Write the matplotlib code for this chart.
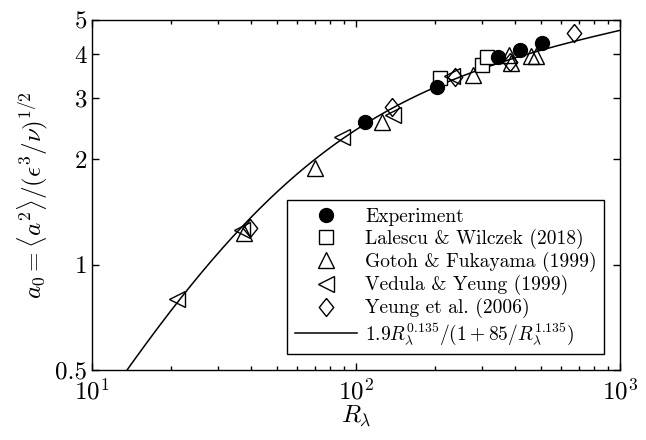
"""a0 vs R_lambda: experiment and DNS data with the empirical fit."""

import matplotlib
matplotlib.use("Agg")
import matplotlib.pyplot as plt
import numpy as np
from matplotlib.ticker import FixedLocator, FixedFormatter, LogLocator, NullFormatter

plt.rcParams["font.family"] = "serif"
plt.rcParams["font.serif"] = ["cmr10", "DejaVu Serif"]
plt.rcParams["mathtext.fontset"] = "cm"
plt.rcParams["axes.formatter.use_mathtext"] = True

# data
exp_R = [108, 203, 345, 418, 506]
exp_a0 = [2.56, 3.22, 3.93, 4.10, 4.31]

lw_R = [208, 300, 313]
lw_a0 = [3.41, 3.72, 3.93]

gf_R = [37.6, 70, 125, 278, 380, 386, 460, 480]
gf_a0 = [1.23, 1.89, 2.56, 3.48, 3.97, 3.76, 3.94, 3.94]

vy_R = [21, 37, 88.5, 138, 231]
vy_a0 = [0.80, 1.26, 2.32, 2.68, 3.45]

yeung_R = [39.5, 137, 237, 382, 670]
yeung_a0 = [1.27, 2.82, 3.44, 3.79, 4.59]

# fit a0 = C R^p / (1 + K / R^(1+p))
fit_C, fit_p, fit_K = 1.9, 0.135, 85.0

fig = plt.figure(figsize=(6.46, 4.40), dpi=100)
ax = fig.add_axes([0.1424, 0.159, 0.8174, 0.7955])

R = np.logspace(1, 3, 400)
fit = fit_C * R**fit_p / (1 + fit_K / R**(1 + fit_p))

diamond = [(0, 1), (0.8, 0), (0, -1), (-0.8, 0), (0, 1)]
ms = 12
ax.plot(exp_R, exp_a0, "o", ms=10, color="black", ls="none", label="Experiment", zorder=3)
ax.plot(lw_R, lw_a0, "s", ms=10, mfc="white", mec="black", mew=1.0, ls="none",
        label="Lalescu & Wilczek (2018)", zorder=2)
ax.plot(gf_R, gf_a0, "^", ms=ms, mfc="none", mec="black", mew=1.0, ls="none",
        label="Gotoh & Fukayama (1999)", zorder=2)
ax.plot(vy_R, vy_a0, "<", ms=ms, mfc="none", mec="black", mew=1.0, ls="none",
        label="Vedula & Yeung (1999)", zorder=2)
ax.plot(yeung_R, yeung_a0, marker=diamond, ms=13, mfc="none", mec="black", mew=1.0, ls="none",
        label="Yeung et al. (2006)", zorder=2)
ax.plot(R, fit, "-", color="black", lw=1.1,
        label=r"$1.9R_\lambda^{0.135}/(1+85/R_\lambda^{1.135})$", zorder=1)

ax.set_xscale("log")
ax.set_yscale("log")
ax.set_xlim(10, 1000)
ax.set_ylim(0.5, 5)

yt = [0.5, 1, 2, 3, 4, 5]
ax.yaxis.set_major_locator(FixedLocator(yt))
ax.yaxis.set_major_formatter(FixedFormatter(["0.5", "1", "2", "3", "4", "5"]))
ax.yaxis.set_minor_locator(FixedLocator([]))
ax.yaxis.set_minor_formatter(NullFormatter())
ax.xaxis.set_minor_locator(LogLocator(base=10, subs=np.arange(2, 10)))
ax.xaxis.set_minor_formatter(NullFormatter())

ax.tick_params(which="both", direction="in", top=True, right=True, labelsize=18, width=1.0)
ax.tick_params(which="major", length=5)
ax.tick_params(which="minor", length=3)
ax.tick_params(axis="x", which="major", pad=6)
for s in ax.spines.values():
    s.set_linewidth(1.0)

ax.set_xlabel(r"$R_\lambda$", fontsize=18, labelpad=0)
ax.set_ylabel(r"$a_0 = \langle a^2\rangle/(\epsilon^3/\nu)^{1/2}$", fontsize=18, labelpad=4)

leg = ax.legend(loc="lower right", fontsize=14, frameon=True, fancybox=False,
                edgecolor="black", framealpha=1, handlelength=3.2, labelspacing=0.15,
                borderaxespad=0.8, borderpad=0.4, handletextpad=0.4)
leg.get_frame().set_linewidth(1.0)

fig.savefig("out.png", dpi=100)
